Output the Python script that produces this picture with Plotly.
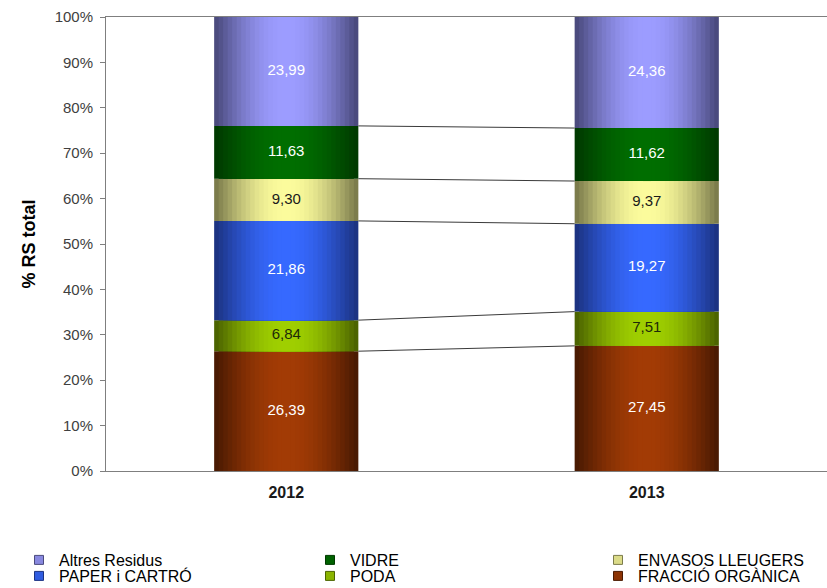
import math
import plotly.graph_objects as go

# ---------------- data ----------------
years = ["2012", "2013"]
fraccio_organica = [26.39, 27.45]
poda = [6.84, 7.51]
paper_carto = [21.86, 19.27]
envasos_lleugers = [9.30, 9.37]
vidre = [11.63, 11.62]
altres_residus = [23.99, 24.36]

y_ticks = list(range(0, 101, 10))
y_tick_labels = [f"{v}%" for v in y_ticks]

# name, values, edge colour, centre colour, label colour (bottom -> top)
series = [
    ("FRACCIÓ ORGÀNICA", fraccio_organica, "#4a1a02", "#a23b05", "white"),
    ("PODA", poda, "#4c6400", "#9fcf00", "#1e2a08"),
    ("PAPER i CARTRÓ", paper_carto, "#1c3382", "#3669ff", "white"),
    ("ENVASOS LLEUGERS", envasos_lleugers, "#7c7c4c", "#fbfb9c", "#1a1a1a"),
    ("VIDRE", vidre, "#003a00", "#006e00", "white"),
    ("Altres Residus", altres_residus, "#4b4b7e", "#9c9cff", "white"),
]
# legend grid (row, column) for each series
legend_grid = [["Altres Residus", "VIDRE", "ENVASOS LLEUGERS"],
               ["PAPER i CARTRÓ", "PODA", "FRACCIÓ ORGÀNICA"]]
legend_col_x = [19, 310, 598]      # px from left of figure
legend_row_top = [543, 559]        # px from top of figure

FONT = "Liberation Sans, Arial, sans-serif"
BAR_W = 0.4
N_LAYERS = 16
W, H = 827, 588
xs = list(range(len(years)))


def hex2rgb(h):
    h = h.lstrip("#")
    return tuple(int(h[i:i + 2], 16) for i in (0, 2, 4))


def lerp(c1, c2, t):
    a, b = hex2rgb(c1), hex2rgb(c2)
    return "rgb(%d,%d,%d)" % tuple(round(a[i] + (b[i] - a[i]) * t) for i in range(3))


totals = [sum(s[1][i] for s in series) for i in xs]
fig = go.Figure()

bases = [0.0 for _ in xs]
tops = []
label_x, label_y, label_t, label_c = [], [], [], []
for name, vals, edge, centre, lcol in series:
    norm = [vals[i] / totals[i] * 100 for i in xs]
    for k in range(N_LAYERS):
        w = BAR_W * (1 - k / N_LAYERS)
        t = math.sin(math.pi / 2 * k / (N_LAYERS - 1))
        fig.add_trace(go.Bar(
            x=xs, y=norm, base=list(bases), width=[w] * len(xs),
            marker=dict(color=lerp(edge, centre, t), line=dict(width=0)),
            showlegend=False, hoverinfo="skip"))
    for i in xs:
        label_x.append(i)
        label_y.append(bases[i] + norm[i] / 2)
        label_t.append(f"{vals[i]:.2f}".replace(".", ","))
        label_c.append(lcol)
    bases = [bases[i] + norm[i] for i in xs]
    tops.append(list(bases))

# series lines between the bars
for top in tops[:-1]:
    fig.add_trace(go.Scatter(
        x=[xs[0] + BAR_W / 2, xs[1] - BAR_W / 2], y=top, mode="lines",
        line=dict(color="#3a3a3a", width=1), showlegend=False, hoverinfo="skip"))

# data labels
fig.add_trace(go.Scatter(
    x=label_x, y=label_y, text=label_t, mode="text",
    textfont=dict(family=FONT, size=15, color=label_c),
    showlegend=False, hoverinfo="skip"))

# legend entries: one small legend per grid cell
lookup = {s[0]: s for s in series}
legends = {}
n = 0
for r, row in enumerate(legend_grid):
    for c, name in enumerate(row):
        n += 1
        key = "legend" if n == 1 else f"legend{n}"
        _, _, edge, centre, _ = lookup[name]
        fig.add_trace(go.Scatter(
            x=[None], y=[None], mode="markers", name=name, legend=key,
            marker=dict(symbol="square", size=9, color=lerp(edge, centre, 0.75),
                        line=dict(color=edge, width=1))))
        legends[key] = dict(
            orientation="h", xref="container", yref="container",
            x=legend_col_x[c] / W, y=1 - legend_row_top[r] / H,
            xanchor="left", yanchor="top",
            font=dict(family=FONT, size=16, color="black"),
            bgcolor="rgba(0,0,0,0)", itemclick=False, itemdoubleclick=False)

fig.update_layout(
    width=W, height=H,
    margin=dict(l=106, r=0, t=17, b=117),
    barmode="overlay",
    paper_bgcolor="white", plot_bgcolor="white",
    font=dict(family=FONT, color="#404040"),
    xaxis=dict(range=[-0.5, 1.5], tickvals=xs,
               ticktext=[f"<b>{y}</b>" for y in years],
               tickfont=dict(family=FONT, size=16, color="#1a1a1a"),
               showline=True, mirror=True, linecolor="#7f7f7f", linewidth=1,
               ticks="", showgrid=False, zeroline=False, ticklabelstandoff=7,
               automargin=False, fixedrange=True),
    yaxis=dict(range=[0, 100], tickvals=y_ticks, ticktext=y_tick_labels,
               tickfont=dict(family=FONT, size=15, color="#404040"),
               showline=True, linecolor="#7f7f7f", linewidth=1,
               ticks="outside", ticklen=5, tickcolor="#7f7f7f",
               showgrid=False, zeroline=False, ticklabelstandoff=4,
               title=dict(text="<b>% RS total</b>", standoff=14,
                          font=dict(family=FONT, size=18, color="black")),
               automargin=False, fixedrange=True),
    **legends,
)

fig.write_html(
    "out.html",
    config={"displayModeBar": False},
    post_script="document.body.style.margin='0';document.body.style.overflow='hidden';",
)
